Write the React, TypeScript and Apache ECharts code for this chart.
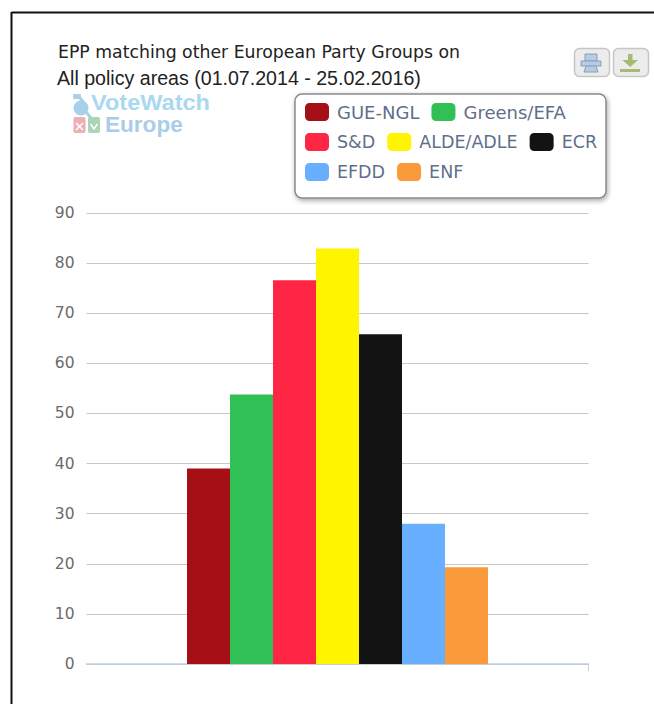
import React, { useEffect, useRef } from "react";
import * as echarts from "echarts";

const categories = ["All policy areas"];
const seriesNames = ["GUE-NGL", "Greens/EFA", "S&D", "ALDE/ADLE", "ECR", "EFDD", "ENF"];
const seriesValues = [39, 53.8, 76.6, 82.9, 65.8, 28, 19.3];
const seriesColors = ["#a50f15", "#31c056", "#ff2645", "#fff500", "#131313", "#68b0ff", "#fb9a3a"];
const legendRows = [
  ["GUE-NGL", "Greens/EFA"],
  ["S&D", "ALDE/ADLE", "ECR"],
  ["EFDD", "ENF"],
];
const titleLines = ["EPP matching other European Party Groups on", "All policy areas (01.07.2014 - 25.02.2016)"];
const logoLines = ["VoteWatch", "Europe"];

const VERDANA = "'DejaVu Sans', sans-serif";
const ARIAL = "'Liberation Sans', Arial, sans-serif";

export default function App() {
  const ref = useRef<HTMLDivElement>(null);
  useEffect(() => {
    document.body.style.margin = "0";
    const chart = echarts.init(ref.current!, undefined, { renderer: "svg" });
    chart.setOption({
      animation: false,
      backgroundColor: "#ffffff",
      grid: { left: 86.5, right: 65.5, top: 213, bottom: 40, containLabel: false },
      xAxis: {
        type: "category",
        data: categories,
        axisLine: { lineStyle: { color: "#c0d0e0", width: 1.5 } },
        axisTick: { show: false },
        axisLabel: { show: false },
      },
      yAxis: {
        type: "value",
        min: 0,
        max: 90,
        interval: 10,
        axisLine: { show: false },
        axisTick: { show: false },
        axisLabel: { color: "#6b6b6b", fontFamily: VERDANA, fontSize: 15.5, margin: 12, padding: [2, 0, 0, 0] },
        splitLine: { lineStyle: { color: "#c8c8c8", width: 1 } },
      },
      legend: legendRows.map((row, i) => ({
        data: row,
        orient: "horizontal",
        left: 305,
        top: 103 + i * 30,
        padding: 0,
        itemWidth: 24,
        itemHeight: 18,
        itemGap: 12,
        icon: "roundRect",
        z: 10,
        textStyle: { color: "#5f6f8a", fontFamily: VERDANA, fontSize: i === 0 ? 18 : 17.5, padding: [0, 0, 0, 3] },
      })),
      series: seriesNames.map((name, i) => ({
        name,
        type: "bar",
        data: [seriesValues[i]],
        barWidth: 43,
        barGap: "0%",
        itemStyle: { color: seriesColors[i] },
      })),
      graphic: [
        { type: "line", shape: { x1: 11.5, y1: 12.5, x2: 654, y2: 12.5 }, style: { stroke: "#111", lineWidth: 2 } },
        { type: "line", shape: { x1: 11.5, y1: 12, x2: 11.5, y2: 704 }, style: { stroke: "#111", lineWidth: 2 } },
        { type: "text", x: 58, y: 52, style: { text: titleLines[0], font: `17.3px ${VERDANA}`, fill: "#222", textVerticalAlign: "middle" } },
        { type: "text", x: 57, y: 78, style: { text: titleLines[1], font: `19.6px ${ARIAL}`, fill: "#222", textVerticalAlign: "middle" } },
        { type: "text", x: 91, y: 102.5, scaleX: 1.07, style: { text: logoLines[0], font: `bold 22px ${ARIAL}`, fill: "#a9d9f0", textVerticalAlign: "middle" } },
        { type: "text", x: 105, y: 124.5, scaleX: 1.05, style: { text: logoLines[1], font: `bold 21.5px ${ARIAL}`, fill: "#a9cde8", textVerticalAlign: "middle" } },
        { type: "rect", shape: { x: 73, y: 94, width: 8, height: 5, r: 1 }, style: { fill: "#a9d0ea" } },
        { type: "circle", shape: { cx: 81, cy: 108, r: 7.5 }, style: { fill: "#a9d0ea" } },
        { type: "line", shape: { x1: 80, y1: 98, x2: 84, y2: 103 }, style: { stroke: "#a9d0ea", lineWidth: 3 } },
        { type: "line", shape: { x1: 86, y1: 112, x2: 91, y2: 118 }, style: { stroke: "#a9d0ea", lineWidth: 3 } },
        { type: "rect", shape: { x: 73.5, y: 117, width: 12, height: 16, r: 2 }, style: { fill: "#eab0b5" } },
        { type: "rect", shape: { x: 88, y: 117, width: 12, height: 16, r: 2 }, style: { fill: "#a9d6b5" } },
        { type: "line", shape: { x1: 76, y1: 123, x2: 83, y2: 130 }, style: { stroke: "#fff", lineWidth: 1.5 } },
        { type: "line", shape: { x1: 83, y1: 123, x2: 76, y2: 130 }, style: { stroke: "#fff", lineWidth: 1.5 } },
        { type: "polyline", shape: { points: [[90.5, 124], [94, 129], [97.5, 124]] }, style: { stroke: "#fff", lineWidth: 1.5, fill: "none" } },
        {
          type: "rect", z: 5,
          shape: { x: 295, y: 94, width: 311, height: 104, r: 7 },
          style: { fill: "#fff", stroke: "#8a8a8a", lineWidth: 1.5, shadowBlur: 5, shadowColor: "rgba(0,0,0,0.35)", shadowOffsetX: 1, shadowOffsetY: 2 },
        },
        { type: "rect", shape: { x: 574.5, y: 48.5, width: 35, height: 28, r: 5 }, style: { fill: "#ececec", stroke: "#c6c6c6", lineWidth: 1.5 } },
        { type: "rect", shape: { x: 613.5, y: 48.5, width: 35, height: 28, r: 5 }, style: { fill: "#ececec", stroke: "#c6c6c6", lineWidth: 1.5 } },
        { type: "rect", shape: { x: 585, y: 54, width: 12, height: 7 }, style: { fill: "#b4cde6", stroke: "#8b9db3", lineWidth: 1 } },
        { type: "rect", shape: { x: 581, y: 61, width: 20, height: 5 }, style: { fill: "#b4cde6", stroke: "#8b9db3", lineWidth: 1 } },
        { type: "polygon", shape: { points: [[586, 66], [596, 66], [598, 72], [584, 72]] }, style: { fill: "#b4cde6", stroke: "#8b9db3", lineWidth: 1 } },
        { type: "polygon", shape: { points: [[628, 54], [632.5, 54], [632.5, 60], [638, 60], [630.2, 67], [622.5, 60], [628, 60]] }, style: { fill: "#a6bb72" } },
        { type: "rect", shape: { x: 620, y: 69, width: 20, height: 3 }, style: { fill: "#a6bb72" } },
        { type: "line", shape: { x1: 588.5, y1: 664, x2: 588.5, y2: 671 }, style: { stroke: "#c0d0e0", lineWidth: 1 } },
      ],
    });
    return () => chart.dispose();
  }, []);
  return <div ref={ref} style={{ position: "absolute", left: 0, top: 0, width: 654, height: 704 }} />;
}
